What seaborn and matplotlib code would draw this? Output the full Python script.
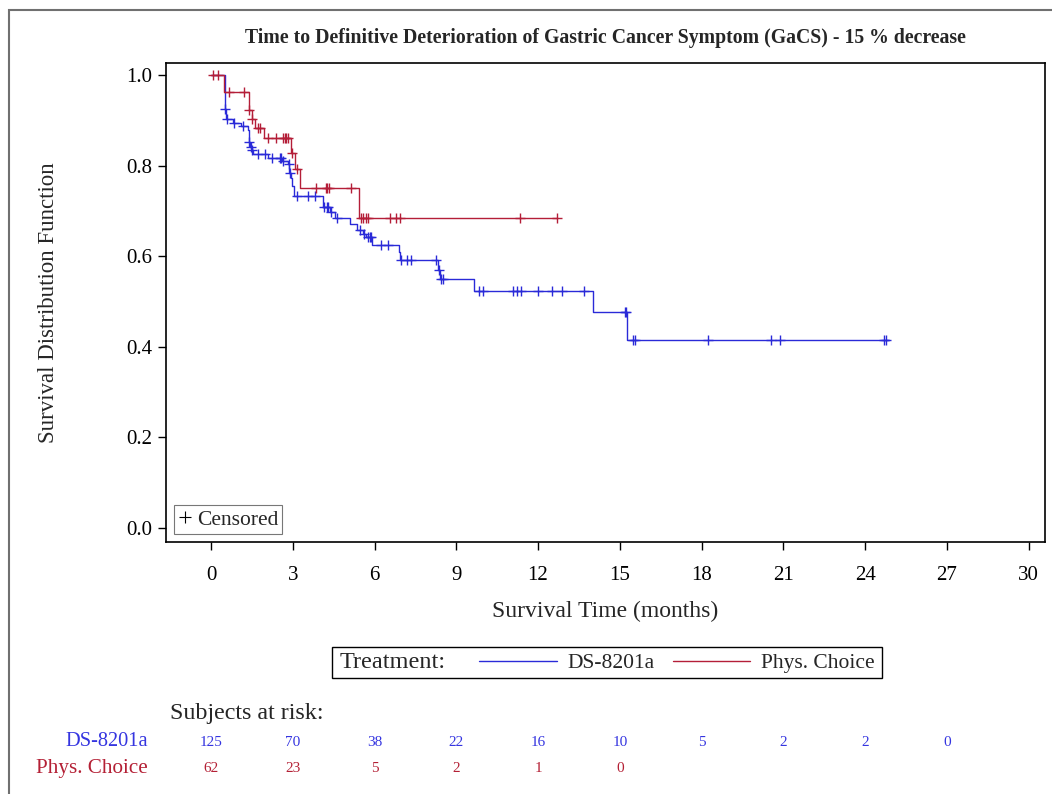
import numpy as np
import pandas as pd
import matplotlib
matplotlib.use("Agg")
import matplotlib.pyplot as plt
import seaborn as sns
from matplotlib.lines import Line2D
from matplotlib.patches import Rectangle
from matplotlib.transforms import blended_transform_factory

# ---------------- data ----------------
arms = ["DS-8201a", "Phys. Choice"]

ds_step_t = [0.0, 0.51, 0.56, 0.80, 1.12, 1.35, 1.40, 1.45, 1.50, 1.55, 2.08, 2.62,
             2.81, 2.86, 2.92, 2.98, 3.05, 4.12, 4.37, 4.54, 5.10, 5.35, 5.59, 5.70,
             5.89, 6.90, 6.95, 8.33, 8.40, 9.65, 14.02, 15.26]
ds_step_s = [1.000, 0.926, 0.903, 0.895, 0.887, 0.880, 0.853, 0.842, 0.834, 0.825, 0.817, 0.811,
             0.804, 0.783, 0.774, 0.755, 0.733, 0.710, 0.698, 0.684, 0.672, 0.659, 0.650, 0.642,
             0.626, 0.610, 0.592, 0.569, 0.549, 0.523, 0.476, 0.416]
ds_end = 24.88
ds_cens = [0.53, 0.58, 0.85, 1.16, 1.41, 1.46, 1.51, 1.71, 1.98, 2.25, 2.53, 2.56, 2.64,
           2.85, 2.90, 3.17, 3.56, 3.80, 4.15, 4.24, 4.31, 4.40, 4.62, 5.47, 5.62, 5.76,
           5.84, 5.87, 6.23, 6.50, 6.98, 7.20, 7.33, 8.27, 8.36, 8.44, 8.52, 9.83, 9.99,
           11.09, 11.21, 11.36, 11.99, 12.52, 12.88, 13.70, 15.18, 15.23, 15.48, 15.57,
           18.22, 20.54, 20.88, 24.69, 24.76]

pc_step_t = [0.0, 0.49, 1.40, 1.49, 1.62, 1.93, 2.95, 3.09, 3.27, 5.42]
pc_step_s = [1.000, 0.963, 0.923, 0.904, 0.884, 0.862, 0.828, 0.792, 0.752, 0.685]
pc_end = 12.70
pc_cens = [0.06, 0.25, 0.66, 1.20, 1.41, 1.50, 1.71, 1.79, 2.10, 2.38, 2.63, 2.70, 2.76,
           2.82, 2.97, 3.15, 3.85, 4.21, 4.27, 4.33, 5.13, 5.49, 5.59, 5.68, 5.76, 6.57,
           6.80, 6.95, 11.33, 12.70]

risk_times = [0, 3, 6, 9, 12, 15, 18, 21, 24, 27]
ds_risk = [125, 70, 38, 22, 16, 10, 5, 2, 2, 0]
pc_risk = [62, 23, 5, 2, 1, 0]

x_ticks = [0, 3, 6, 9, 12, 15, 18, 21, 24, 27, 30]
y_ticks = [0.0, 0.2, 0.4, 0.6, 0.8, 1.0]

title = "Time to Definitive Deterioration of Gastric Cancer Symptom (GaCS) - 15 % decrease"

# ---------------- style ----------------
BLUE = "#2a2ad8"
RED = "#b41e38"
BLUE_TXT = "#3535e0"
RED_TXT = "#b42035"
palette = {"DS-8201a": BLUE, "Phys. Choice": RED}

sns.set_style("white")
plt.rcParams["font.family"] = ["Liberation Serif", "DejaVu Serif"]

W, H = 1052, 794
fig = plt.figure(figsize=(W / 100, H / 100), dpi=100)
ax = fig.add_axes([166 / W, 1 - 542 / H, (1045 - 166) / W, (542 - 63) / H])


def step_frame(times, surv, end, name):
    t = list(times) + [end]
    s = list(surv) + [surv[-1]]
    return pd.DataFrame({"time": t, "surv": s, "arm": name})


curves = pd.concat([
    step_frame(ds_step_t, ds_step_s, ds_end, arms[0]),
    step_frame(pc_step_t, pc_step_s, pc_end, arms[1]),
], ignore_index=True)

sns.lineplot(data=curves, x="time", y="surv", hue="arm", palette=palette,
             estimator=None, sort=False, drawstyle="steps-post", lw=1.0,
             legend=False, ax=ax)


def surv_at(times, surv, pts):
    idx = np.searchsorted(np.asarray(times), np.asarray(pts), side="right") - 1
    return np.asarray(surv)[idx]


for tt, ss, cc, col in [(ds_step_t, ds_step_s, ds_cens, BLUE),
                        (pc_step_t, pc_step_s, pc_cens, RED)]:
    ax.plot(cc, surv_at(tt, ss, cc), ls="none", marker="+", ms=7.5, mew=1.0,
            color=col)

ax.set_xlim(-1.65, 30.6)
ax.set_ylim(-0.031, 1.027)
ax.set_xticks(x_ticks)
ax.set_yticks(y_ticks)
ax.set_yticklabels([f"{v:.1f}" for v in y_ticks])
ax.tick_params(axis="both", direction="out", length=6, width=1.0, labelsize=15,
               colors="black", bottom=True, left=True)
ax.tick_params(axis="x", pad=11)
ax.tick_params(axis="y", pad=4)
for sp in ax.spines.values():
    sp.set_color("black")
    sp.set_linewidth(1.2)

ax.set_xlabel("Survival Time (months)", fontsize=17)
ax.set_ylabel("Survival Distribution Function", fontsize=16.5)
ax.xaxis.set_label_coords(0.5, -(601 - 542) / (542 - 63))
ax.yaxis.set_label_coords((59 - 166) / (1045 - 166), 0.5)

# censored legend inside the axes
cens_handle = Line2D([], [], ls="none", marker="+", ms=8, mew=0.8, color="black")
leg_in = ax.legend(handles=[cens_handle], labels=["Censored"], loc="lower left",
                   fontsize=15.5, frameon=True, fancybox=False, handlelength=0.6,
                   handletextpad=0.25, borderpad=0.2, borderaxespad=0.38)
leg_in.get_frame().set_edgecolor("#555555")
leg_in.get_frame().set_linewidth(0.8)

# title
fig.text(605.5 / W, 1 - 38 / H, title, ha="center", va="center", fontsize=14.2,
         fontweight="bold")

# bottom treatment legend
handles = [Line2D([], [], color=BLUE, lw=1.0), Line2D([], [], color=RED, lw=1.0)]
fig.legend(handles=handles, labels=arms, ncol=2, frameon=False, fontsize=15.5,
           loc="center left", bbox_to_anchor=(479 / W, 1 - 663 / H),
           handlelength=3.6, handletextpad=0.5, columnspacing=0.85,
           borderpad=0.0, borderaxespad=0.0)
fig.text(340 / W, 1 - 663 / H, "Treatment:", ha="left", va="center", fontsize=17.5)
fig.add_artist(Rectangle((332 / W, 1 - 678 / H), (882 - 332) / W, 31 / H,
                         transform=fig.transFigure, fill=False,
                         edgecolor="black", lw=1.0))

# at-risk table
fig.text(170 / W, 1 - 713 / H, "Subjects at risk:", ha="left", va="center",
         fontsize=17.3)
fig.text(148 / W, 1 - 742 / H, arms[0], ha="right", va="center", fontsize=14.7,
         color=BLUE_TXT)
fig.text(148 / W, 1 - 768 / H, arms[1], ha="right", va="center", fontsize=15.2,
         color=RED_TXT)
trans = blended_transform_factory(ax.transData, fig.transFigure)
for t, n in zip(risk_times, ds_risk):
    ax.text(t, 1 - 742 / H, str(n), transform=trans, ha="center", va="center",
            fontsize=11, color=BLUE_TXT, clip_on=False)
for t, n in zip(risk_times, pc_risk):
    ax.text(t, 1 - 768 / H, str(n), transform=trans, ha="center", va="center",
            fontsize=11, color=RED_TXT, clip_on=False)

# outer frame
fig.add_artist(Rectangle((9 / W, -0.2), 1.3, 1 - 10 / H + 0.2,
                         transform=fig.transFigure, fill=False,
                         edgecolor="#707070", lw=1.5))

fig.savefig("out.png", dpi=100)
